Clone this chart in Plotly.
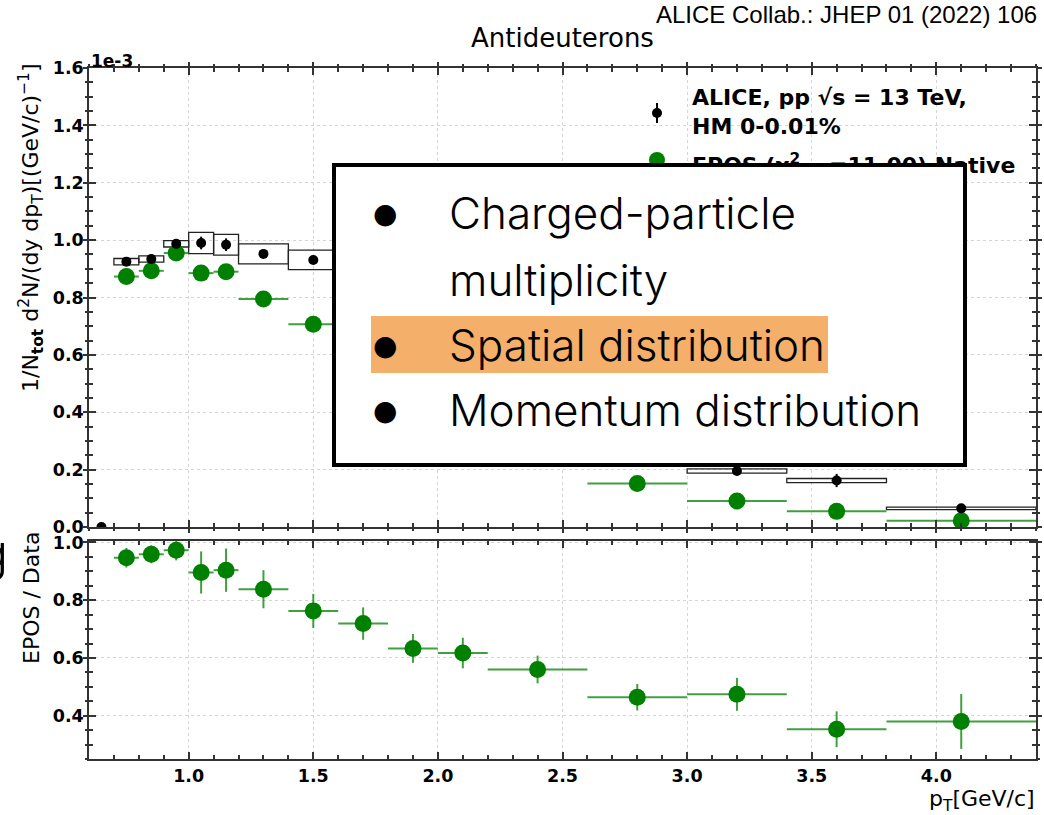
import plotly.graph_objects as go

# ---- spectrum data (values in units of 1e-3) ----
pt = [0.65, 0.75, 0.85, 0.95, 1.05, 1.15, 1.3, 1.5, 1.7, 1.9, 2.1, 2.4, 2.8, 3.2, 3.6, 4.1]
bin_lo = [0.6, 0.7, 0.8, 0.9, 1.0, 1.1, 1.2, 1.4, 1.6, 1.8, 2.0, 2.2, 2.6, 3.0, 3.4, 3.8]
bin_hi = [0.7, 0.8, 0.9, 1.0, 1.1, 1.2, 1.4, 1.6, 1.8, 2.0, 2.2, 2.6, 3.0, 3.4, 3.8, 4.4]
data = [0.0, 0.925, 0.934, 0.987, 0.990, 0.984, 0.952, 0.931, 0.86, 0.76, 0.62, 0.49, 0.33, 0.195, 0.162, 0.065]
data_stat = [0.0, 0.008, 0.008, 0.010, 0.022, 0.022, 0.008, 0.008, 0.010, 0.010, 0.010, 0.010, 0.010, 0.008, 0.023, 0.006]
data_sys = [0.0, 0.011, 0.011, 0.011, 0.037, 0.036, 0.035, 0.034, 0.030, 0.030, 0.025, 0.020, 0.015, 0.0075, 0.007, 0.0045]
epos = [None, 0.873, 0.893, 0.955, 0.885, 0.890, 0.795, 0.707, 0.62, 0.48, 0.38, 0.275, 0.152, 0.0904, 0.0545, 0.022]

# ---- EPOS / Data ratio ----
ratio = [None, 0.947, 0.959, 0.973, 0.896, 0.904, 0.838, 0.763, 0.719, 0.633, 0.617, 0.560, 0.464, 0.474, 0.353, 0.380]
ratio_err = [None, 0.034, 0.031, 0.035, 0.073, 0.075, 0.066, 0.059, 0.056, 0.050, 0.053, 0.048, 0.046, 0.057, 0.062, 0.095]

x_ticks = [1.0, 1.5, 2.0, 2.5, 3.0, 3.5, 4.0]

W, H = 1044, 815
def px_x(v):
    return v / W
def px_y(v):
    return 1 - v / H

half_w = [(h - l) / 2 for l, h in zip(bin_lo, bin_hi)]
GREEN = "#008000"
GREEN_BAR = "rgba(0,128,0,0.75)"
AX = "#333333"
GRID = "#d5d5d5"
TICKFONT = dict(family="DejaVu Sans", size=17.5, color="black", weight="bold")

X_DOM = [px_x(89), px_x(1036)]
TOP_DOM = [px_y(527), px_y(68)]
BOT_DOM = [px_y(759), px_y(541)]
X_RANGE = [0.6, 4.4]
TOP_RANGE = [0, 1.6]
BOT_RANGE = [0.25, 1.005]

fig = go.Figure()

# EPOS spectrum
fig.add_trace(go.Scatter(
    x=pt, y=epos, mode="markers", xaxis="x", yaxis="y",
    marker=dict(color=GREEN, size=17),
    error_x=dict(type="data", array=half_w, color=GREEN_BAR, thickness=2, width=0),
    showlegend=False,
))
# ALICE data with statistical errors
fig.add_trace(go.Scatter(
    x=pt, y=data, mode="markers", xaxis="x", yaxis="y",
    marker=dict(color="black", size=10),
    error_y=dict(type="data", array=data_stat, color="black", thickness=2, width=0),
    showlegend=False,
))
# ratio panel
fig.add_trace(go.Scatter(
    x=pt, y=ratio, mode="markers", xaxis="x2", yaxis="y2",
    marker=dict(color=GREEN, size=17),
    error_x=dict(type="data", array=half_w, color=GREEN_BAR, thickness=2, width=0),
    error_y=dict(type="data", array=ratio_err, color=GREEN_BAR, thickness=2, width=0),
    showlegend=False,
))
# empty traces that carry the outward half of the in-out tick marks
fig.add_trace(go.Scatter(x=[None], y=[None], xaxis="x3", yaxis="y3", showlegend=False, hoverinfo="skip"))
fig.add_trace(go.Scatter(x=[None], y=[None], xaxis="x4", yaxis="y4", showlegend=False, hoverinfo="skip"))

shapes = []
# systematic uncertainty boxes
for lo, hi, v, s in zip(bin_lo, bin_hi, data, data_sys):
    if s > 0:
        shapes.append(dict(type="rect", xref="x", yref="y", x0=lo, x1=hi,
                           y0=v - s, y1=v + s, line=dict(color="#222222", width=1.3),
                           fillcolor="rgba(0,0,0,0)", layer="between"))

# legend markers
shapes.append(dict(type="line", xref="paper", yref="paper",
                   x0=px_x(657), x1=px_x(657), y0=px_y(103), y1=px_y(123),
                   line=dict(color="black", width=2)))
shapes.append(dict(type="circle", xref="paper", yref="paper",
                   x0=px_x(652), x1=px_x(662), y0=px_y(118), y1=px_y(108),
                   fillcolor="black", line=dict(width=0)))
shapes.append(dict(type="circle", xref="paper", yref="paper",
                   x0=px_x(649), x1=px_x(665), y0=px_y(168), y1=px_y(152),
                   fillcolor=GREEN, line=dict(width=0)))

axis_common = dict(showline=True, linecolor=AX, linewidth=1.5, mirror="ticks",
                   ticks="inside", ticklen=7, tickwidth=1.5, tickcolor=AX,
                   showgrid=True, gridcolor=GRID, griddash="dot", gridwidth=1,
                   zeroline=False, tickfont=TICKFONT, automargin=False)
outer_common = dict(showline=False, mirror="ticks", ticks="outside", ticklen=5,
                    tickwidth=1.5, tickcolor=AX, showgrid=False, zeroline=False,
                    showticklabels=False, automargin=False)
minor_in = dict(ticks="inside", ticklen=4, tickcolor=AX, showgrid=False)
minor_out = dict(ticks="outside", ticklen=3, tickcolor=AX, showgrid=False)

fig.update_layout(
    width=W, height=H, margin=dict(l=0, r=0, t=0, b=0, autoexpand=False),
    paper_bgcolor="white", plot_bgcolor="white",
    shapes=shapes,
    xaxis=dict(domain=X_DOM, range=X_RANGE, anchor="y",
               tickvals=x_ticks, showticklabels=False,
               minor=dict(dtick=0.1, **minor_in), **axis_common),
    yaxis=dict(domain=TOP_DOM, range=TOP_RANGE, anchor="x",
               dtick=0.2, tick0=0, tickformat=".1f",
               minor=dict(dtick=0.05, **minor_in), **axis_common),
    xaxis2=dict(domain=X_DOM, range=X_RANGE, anchor="y2",
                tickvals=x_ticks, tickformat=".1f",
                minor=dict(dtick=0.1, **minor_in), **axis_common),
    yaxis2=dict(domain=BOT_DOM, range=BOT_RANGE, anchor="x2",
                dtick=0.2, tick0=0, tickformat=".1f",
                minor=dict(dtick=0.05, **minor_in), **axis_common),
    xaxis3=dict(overlaying="x", anchor="y3", range=X_RANGE, tickvals=x_ticks,
                minor=dict(dtick=0.1, **minor_out), **outer_common),
    yaxis3=dict(overlaying="y", anchor="x3", range=TOP_RANGE, dtick=0.2, tick0=0,
                minor=dict(dtick=0.05, **minor_out), **outer_common),
    xaxis4=dict(overlaying="x2", anchor="y4", range=X_RANGE, ticks="",
                showline=False, showgrid=False, zeroline=False, showticklabels=False),
    yaxis4=dict(overlaying="y2", anchor="x4", range=BOT_RANGE, dtick=0.2, tick0=0,
                minor=dict(dtick=0.05, **minor_out), **outer_common),
)

SLIDE_FONT = dict(family="Inter", size=44, color="black", weight=300)
annotations = [
    dict(text="Antideuterons", x=px_x(562.5), y=px_y(38), xanchor="center", yanchor="middle",
         font=dict(family="DejaVu Sans", size=26, color="black")),
    dict(text="ALICE Collab.: JHEP 01 (2022) 106", x=px_x(1039), y=px_y(14),
         xanchor="right", yanchor="middle",
         font=dict(family="Liberation Sans", size=24, color="black")),
    dict(text="<b>1e-3</b>", x=px_x(89), y=px_y(61), xanchor="left", yanchor="middle",
         font=dict(family="DejaVu Sans", size=17, color="black")),
    dict(text="1/N<sub><b>tot</b></sub> d<sup>2</sup>N/(dy dp<sub>T</sub>)[(GeV/c)<sup>−1</sup>]",
         x=px_x(31), y=px_y(228), textangle=-90, xanchor="center", yanchor="middle",
         font=dict(family="DejaVu Sans", size=22, color="black")),
    dict(text="EPOS / Data", x=px_x(31), y=px_y(598), textangle=-90,
         xanchor="center", yanchor="middle",
         font=dict(family="DejaVu Sans", size=22, color="black")),
    dict(text="p<sub>T</sub>[GeV/c]", x=px_x(1037), y=px_y(800), xanchor="right", yanchor="middle",
         font=dict(family="DejaVu Sans", size=22, color="black")),
    dict(text="<b>ALICE, pp √s = 13 TeV,<br>HM 0-0.01%</b>", x=px_x(690), y=px_y(112),
         xanchor="left", yanchor="middle", align="left",
         font=dict(family="DejaVu Sans", size=22, color="black")),
    dict(text="<b>EPOS (χ<sup>2</sup><sub>ndf</sub>=11.00) Native</b>", x=px_x(690), y=px_y(166),
         xanchor="left", yanchor="middle", align="left",
         font=dict(family="DejaVu Sans", size=22, color="black")),
    # framed text panel on top of the plot
    dict(text=" ", x=px_x(332), y=px_y(163), xanchor="left", yanchor="top",
         width=627, height=296, bgcolor="white", bordercolor="black", borderwidth=4, borderpad=0),
    dict(text=" ", x=px_x(371), y=px_y(316), xanchor="left", yanchor="top",
         width=457, height=57, bgcolor="#F4AF6B", borderwidth=0, borderpad=0),
    dict(text="Charged-particle", x=px_x(447), y=px_y(213), xanchor="left", yanchor="middle", font=SLIDE_FONT),
    dict(text="multiplicity", x=px_x(447), y=px_y(280), xanchor="left", yanchor="middle", font=SLIDE_FONT),
    dict(text="Spatial distribution", x=px_x(447), y=px_y(345), xanchor="left", yanchor="middle", font=SLIDE_FONT),
    dict(text="Momentum distribution", x=px_x(447), y=px_y(410), xanchor="left", yanchor="middle", font=SLIDE_FONT),
    dict(text="g", x=px_x(10), y=px_y(552), xanchor="right", yanchor="middle",
         font=dict(family="Inter", size=50, color="black", weight=300)),
]
for yb in (213, 345, 410):
    annotations.append(dict(text="●", x=px_x(385), y=px_y(yb), xanchor="center", yanchor="middle",
                            font=dict(family="DejaVu Sans", size=28, color="black")))
for a in annotations:
    a.setdefault("xref", "paper")
    a.setdefault("yref", "paper")
    a.setdefault("showarrow", False)
fig.update_layout(annotations=annotations)

fig.write_html("out.html")
